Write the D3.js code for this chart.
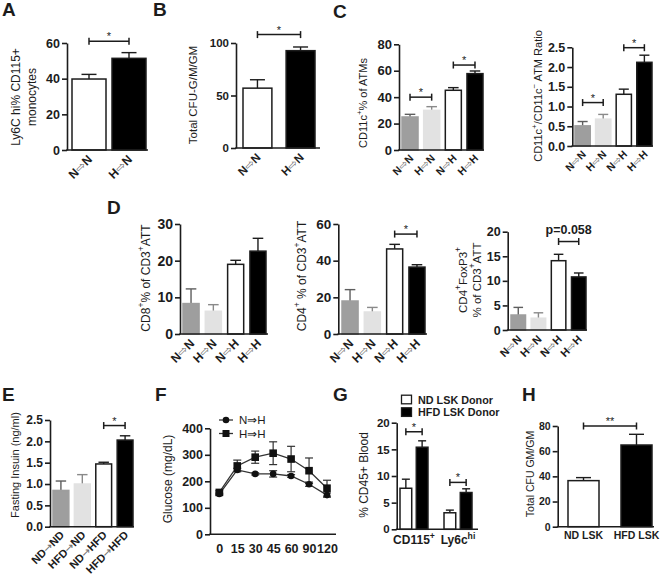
<!DOCTYPE html>
<html><head><meta charset="utf-8">
<script src="https://cdn.jsdelivr.net/npm/d3@7"></script>
<style>body{margin:0;background:#fff}svg{display:block}</style>
</head><body><svg id="c" width="661" height="577"></svg>
<script>
// ---------------- data ----------------
const transferCats2 = ["N⇨N", "H⇨N"];
const transferCats4 = ["N⇨N", "H⇨N", "N⇨H", "H⇨H"];
const aVals = [39.8, 51.4];   const aErr = [2.6, 3.2];
const aSig = [{from: 0, to: 1, at: 61, label: "*"}];
const bVals = [57, 92.7];     const bErr = [8, 3.5];
const bSig = [{from: 0, to: 1, at: 108, label: "*"}];
const cAtmVals = [25, 30, 45.2, 57.8];   const cAtmErr = [2, 2.8, 2, 2];
const cAtmSig = [{from: 0, to: 1, at: 40, label: "*"}, {from: 2, to: 3, at: 64.3, label: "*"}];
const cRatioVals = [0.51, 0.68, 1.31, 2.12]; const cRatioErr = [0.11, 0.12, 0.13, 0.18];
const cRatioSig = [{from: 0, to: 1, at: 1.10, label: "*"}, {from: 2, to: 3, at: 2.49, label: "*"}];
const dCd8Vals = [8.3, 6.2, 19.0, 22.6];  const dCd8Err = [4.0, 1.8, 1.1, 3.5];
const dCd4Vals = [18, 12, 46.4, 36.5];    const dCd4Err = [6.2, 2.5, 2.5, 1.3];
const dCd4Sig = [{from: 2, to: 3, at: 54.5, label: "*"}];
const dTregVals = [3.05, 2.4, 14.1, 10.8]; const dTregErr = [1.55, 1.1, 1.3, 0.8];
const dTregSig = [{from: 2, to: 3, at: 18, label: "p=0.058"}];
const dietCats = ["ND→ND", "HFD→ND", "ND→HFD", "HFD→HFD"];
const eVals = [0.85, 1.0, 1.47, 2.03];   const eErr = [0.22, 0.22, 0.04, 0.1];
const eSig = [{from: 2, to: 3, at: 2.37, label: "*"}];
const fTimes = ["0", "15", "30", "45", "60", "90", "120"];
const fSeries = ["N⇒H", "H⇒H"];
const fNH = [152, 243, 228, 228, 220, 189, 148]; const fNHErr = [4, 6, 4, 12, 5, 8, 8];
const fHH = [158, 258, 291, 306, 284, 240, 174]; const fHHErr = [6, 22, 23, 43, 48, 48, 30];
const gGroups = ["CD115^{+}", "Ly6c^{hi}"];
const gDonors = ["ND LSK Donor", "HFD LSK Donor"];
const gND = [7.7, 3.1];   const gNDErr = [1.7, 0.5];
const gHFD = [15.4, 6.9]; const gHFDErr = [1.2, 0.7];
const gSig = [{group: 0, at: 18.3, label: "*"}, {group: 1, at: 8.8, label: "*"}];
const hCats = ["ND LSK", "HFD LSK"];
const hVals = [36.6, 64.9]; const hErr = [2.4, 8.5];
const hSig = [{from: 0, to: 1, at: 80, label: "**"}];

// ---------------- style ----------------
const FONT = "Arial, 'Liberation Sans', Helvetica, sans-serif";
const INK = "#1c1c1c";
const fill4 = ["#9e9e9e", "#e2e2e2", "#ffffff", "#000000"];
const stroke4 = ["#9e9e9e", "#e2e2e2", INK, INK];
const err4 = ["#5e5e5e", "#8a8a8a", INK, INK];
const fill2 = ["#ffffff", "#000000"];
const stroke2 = [INK, INK];
const err2 = [INK, INK];

const svg = d3.select("#c").attr("font-family", FONT);

function rich(text, str, fs) {
  const parts = str.split(/(\^\{[^}]*\}|~\{[^}]*\})/g).filter(s => s.length);
  let back = 0;
  parts.forEach(p => {
    let t;
    if (p.startsWith("^{")) {
      t = text.append("tspan").text(p.slice(2, -1)).attr("font-size", fs * 0.72).attr("dy", -fs * 0.4);
      back = fs * 0.4;
      return;
    } else if (p.startsWith("~{")) {
      t = text.append("tspan").text(p.slice(2, -1)).attr("fill", "#6e6e6e").attr("font-weight", "normal")
        .attr("font-family", "'DejaVu Sans', sans-serif");
    } else {
      t = text.append("tspan").text(p);
    }
    if (back) { t.attr("dy", back); back = 0; }
  });
}

function yAxis(y, ax, ticks, fmt, fs) {
  const a = svg.append("g").attr("transform", `translate(${ax},0)`)
    .call(d3.axisLeft(y).tickValues(ticks).tickFormat(fmt).tickSize(5).tickSizeOuter(0).tickPadding(2));
  a.attr("font-family", FONT).attr("font-size", fs).attr("font-weight", "bold");
  a.select(".domain").attr("stroke", INK).attr("stroke-width", 1.6);
  a.selectAll(".tick line").attr("stroke", INK).attr("stroke-width", 1.6);
  a.selectAll(".tick text").attr("fill", INK);
  return a;
}

function xLine(x0, x1, yv) {
  svg.append("line").attr("x1", x0 - 0.8).attr("x2", x1).attr("y1", yv).attr("y2", yv)
    .attr("stroke", INK).attr("stroke-width", 1.6);
}

function bracket(xa, xb, yv, label, fs) {
  const g = svg.append("g").attr("stroke", INK).attr("stroke-width", 1.5);
  g.append("line").attr("x1", xa).attr("x2", xb).attr("y1", yv).attr("y2", yv);
  g.append("line").attr("x1", xa).attr("x2", xa).attr("y1", yv - 3.5).attr("y2", yv + 3.5);
  g.append("line").attr("x1", xb).attr("x2", xb).attr("y1", yv - 3.5).attr("y2", yv + 3.5);
  const star = label.startsWith("*");
  svg.append("text").attr("x", (xa + xb) / 2).attr("y", star ? yv - 1 : yv - 8)
    .attr("text-anchor", "middle").attr("font-size", star ? 11 : fs).attr("fill", INK)
    .attr("font-weight", star ? "normal" : "bold").text(label);
}

function yTitle(lines, cy, fs) {
  lines.forEach(l => {
    const t = svg.append("text").attr("transform", `translate(${l.x},${cy}) rotate(-90)`)
      .attr("text-anchor", "middle").attr("dominant-baseline", "central")
      .attr("font-size", fs).attr("fill", INK);
    rich(t, l.s, fs);
  });
}

function letter(s, x, y) {
  svg.append("text").attr("x", x).attr("y", y).attr("font-size", 19).attr("font-weight", "bold")
    .attr("fill", INK).text(s);
}

function errBar(cx, yTop, yEnd, half, color) {
  svg.append("line").attr("x1", cx).attr("x2", cx).attr("y1", yTop).attr("y2", yEnd)
    .attr("stroke", color).attr("stroke-width", 1.4);
  svg.append("line").attr("x1", cx - half).attr("x2", cx + half).attr("y1", yEnd).attr("y2", yEnd)
    .attr("stroke", color).attr("stroke-width", 1.4);
}

function barPanel(o) {
  const y = d3.scaleLinear().domain([0, o.max]).range([o.y0, o.y1]);
  const x = d3.scaleBand().domain(o.cats).range(o.xr).paddingInner(o.pad).paddingOuter(0);
  const bw = x.bandwidth();
  const half = Math.min(7.5, bw * 0.33);
  o.cats.forEach((c, i) => {
    const v = o.vals[i], e = o.errs[i];
    const cx = x(c) + bw / 2;
    errBar(cx, y(v), y(v + e), half, o.err[i]);
    svg.append("rect").attr("x", x(c)).attr("y", y(v)).attr("width", bw).attr("height", o.y0 - y(v))
      .attr("fill", o.fills[i]).attr("stroke", o.strokes[i]).attr("stroke-width", 1.5);
  });
  yAxis(y, o.axisX, o.ticks, o.fmt || d3.format("d"), o.tickFs);
  xLine(o.axisX, o.xEnd, o.y0);
  (o.sig || []).forEach(s => {
    bracket(x(o.cats[s.from]) + bw / 2, x(o.cats[s.to]) + bw / 2, y(s.at), s.label, o.tickFs);
  });
  if (o.rotate) {
    o.cats.forEach(c => {
      const t = svg.append("text")
        .attr("transform", `translate(${x(c) + bw / 2 + o.ldx},${o.y0 + o.ldy}) rotate(-45)`)
        .attr("text-anchor", "end").attr("font-size", o.labFs).attr("font-weight", "bold").attr("fill", INK);
      rich(t, c.replace(/(⇨|⇒|→)/g, "~{$1}"), o.labFs);
    });
  } else {
    o.cats.forEach(c => {
      svg.append("text").attr("x", x(c) + bw / 2).attr("y", o.y0 + o.ldy).attr("text-anchor", "middle")
        .attr("font-size", o.labFs).attr("font-weight", "bold").attr("fill", INK).text(c);
    });
  }
  yTitle(o.title, o.titleCy, o.titleFs);
}

// ---------------- A ----------------
letter("A", 2, 16);
barPanel({cats: transferCats2, vals: aVals, errs: aErr, sig: aSig, max: 60, ticks: [0, 20, 40, 60],
  axisX: 67, y0: 150, y1: 43, xr: [72, 146], pad: 0.15, xEnd: 148, tickFs: 12.5,
  fills: fill2, strokes: stroke2, err: err2, rotate: true, labFs: 12, ldx: 4, ldy: 10,
  title: [{x: 16, s: "Ly6C hi% CD115+"}, {x: 32, s: "monocytes"}], titleCy: 97, titleFs: 12});

// ---------------- B ----------------
letter("B", 153, 16);
barPanel({cats: transferCats2, vals: bVals, errs: bErr, sig: bSig, max: 100, ticks: [0, 50, 100],
  axisX: 236, y0: 148, y1: 43, xr: [243, 315], pad: 0.33, xEnd: 320, tickFs: 11.5,
  fills: fill2, strokes: stroke2, err: err2, rotate: true, labFs: 11.5, ldx: 4, ldy: 10,
  title: [{x: 193, s: "Total CFU-G/M/GM"}], titleCy: 95, titleFs: 11.5});

// ---------------- C ----------------
letter("C", 333, 18);
barPanel({cats: transferCats4, vals: cAtmVals, errs: cAtmErr, sig: cAtmSig, max: 80, ticks: [0, 20, 40, 60, 80],
  axisX: 399, y0: 150, y1: 44.3, xr: [402, 483], pad: 0.26, xEnd: 484, tickFs: 13,
  fills: fill4, strokes: stroke4, err: err4, rotate: true, labFs: 10.5, ldx: 4, ldy: 9,
  title: [{x: 363, s: "CD11c^{+}% of ATMs"}], titleCy: 103, titleFs: 11});
barPanel({cats: transferCats4, vals: cRatioVals, errs: cRatioErr, sig: cRatioSig, max: 2.5,
  ticks: [0, 0.5, 1, 1.5, 2, 2.5], fmt: d3.format(".1f"),
  axisX: 572.3, y0: 146, y1: 47.3, xr: [575, 652], pad: 0.26, xEnd: 653, tickFs: 12.5,
  fills: fill4, strokes: stroke4, err: err4, rotate: true, labFs: 10.5, ldx: 4, ldy: 9,
  title: [{x: 538, s: "CD11c^{+}/CD11c^{−} ATM Ratio"}], titleCy: 96, titleFs: 11});

// ---------------- D ----------------
letter("D", 107, 214);
barPanel({cats: transferCats4, vals: dCd8Vals, errs: dCd8Err, max: 30, ticks: [0, 10, 20, 30],
  axisX: 180, y0: 334, y1: 224, xr: [183, 266], pad: 0.28, xEnd: 268, tickFs: 14,
  fills: fill4, strokes: stroke4, err: err4, rotate: true, labFs: 12, ldx: 4, ldy: 10,
  title: [{x: 146, s: "CD8^{+}% of CD3^{+}ATT"}], titleCy: 278, titleFs: 12});
barPanel({cats: transferCats4, vals: dCd4Vals, errs: dCd4Err, sig: dCd4Sig, max: 60, ticks: [0, 20, 40, 60],
  axisX: 338.3, y0: 334, y1: 224, xr: [342, 425], pad: 0.28, xEnd: 427, tickFs: 13.5,
  fills: fill4, strokes: stroke4, err: err4, rotate: true, labFs: 12, ldx: 4, ldy: 10,
  title: [{x: 302, s: "CD4^{+} % of CD3^{+}ATT"}], titleCy: 276, titleFs: 12});
barPanel({cats: transferCats4, vals: dTregVals, errs: dTregErr, sig: dTregSig, max: 20, ticks: [0, 5, 10, 15, 20],
  axisX: 507.7, y0: 330, y1: 231.7, xr: [511, 586], pad: 0.28, xEnd: 587, tickFs: 12.5,
  fills: fill4, strokes: stroke4, err: err4, rotate: true, labFs: 11, ldx: 4, ldy: 10,
  title: [{x: 463, s: "CD4^{+}FoxP3^{+}"}, {x: 477, s: "% of CD3^{+}ATT"}], titleCy: 280, titleFs: 11.5});

// ---------------- E ----------------
letter("E", 2, 401);
barPanel({cats: dietCats, vals: eVals, errs: eErr, sig: eSig, max: 2.5,
  ticks: [0, 0.5, 1, 1.5, 2, 2.5], fmt: d3.format(".1f"),
  axisX: 50, y0: 526.7, y1: 420, xr: [53, 133], pad: 0.26, xEnd: 134, tickFs: 12,
  fills: fill4, strokes: stroke4, err: err4, rotate: true, labFs: 11, ldx: 4, ldy: 9,
  title: [{x: 15, s: "Fasting Insuin (ng/ml)"}], titleCy: 465, titleFs: 11});

// ---------------- F ----------------
letter("F", 155, 401);
(function () {
  const x = d3.scalePoint().domain(fTimes).range([219.3, 327]);
  const y = d3.scaleLinear().domain([0, 400]).range([534.3, 428.3]);
  yAxis(y, 210, [0, 100, 200, 300, 400], d3.format("d"), 12.5);
  xLine(210, 336, 534.3);
  const xa = svg.append("g").attr("transform", "translate(0,534.3)")
    .call(d3.axisBottom(x).tickSize(0).tickPadding(10));
  xa.attr("font-family", FONT).attr("font-size", 12.5).attr("font-weight", "bold");
  xa.select(".domain").remove();
  xa.selectAll(".tick text").attr("fill", INK);
  const series = [{name: fSeries[0], v: fNH, e: fNHErr, shape: "circle"},
                  {name: fSeries[1], v: fHH, e: fHHErr, shape: "square"}];
  const line = d3.line().x((d, i) => x(fTimes[i])).y(d => y(d));
  series.forEach(s => {
    svg.append("path").attr("d", line(s.v)).attr("fill", "none").attr("stroke", "#333").attr("stroke-width", 1.3);
    s.v.forEach((v, i) => {
      const cx = x(fTimes[i]);
      svg.append("line").attr("x1", cx).attr("x2", cx).attr("y1", y(v - s.e[i])).attr("y2", y(v + s.e[i]))
        .attr("stroke", "#333").attr("stroke-width", 1.2);
      [v - s.e[i], v + s.e[i]].forEach(w => svg.append("line").attr("x1", cx - 4).attr("x2", cx + 4)
        .attr("y1", y(w)).attr("y2", y(w)).attr("stroke", "#333").attr("stroke-width", 1.2));
    });
  });
  series.forEach(s => {
    s.v.forEach((v, i) => {
      const cx = x(fTimes[i]);
      if (s.shape === "circle") svg.append("circle").attr("cx", cx).attr("cy", y(v)).attr("r", 3.3).attr("fill", "#111");
      else svg.append("rect").attr("x", cx - 3.8).attr("y", y(v) - 3.8).attr("width", 7.6).attr("height", 7.6).attr("fill", "#111");
    });
  });
  // legend
  series.forEach((s, k) => {
    const ly = 420 + k * 13.5;
    svg.append("line").attr("x1", 219).attr("x2", 233).attr("y1", ly).attr("y2", ly).attr("stroke", "#333").attr("stroke-width", 1.3);
    if (s.shape === "circle") svg.append("circle").attr("cx", 226).attr("cy", ly).attr("r", 3.3).attr("fill", "#111");
    else svg.append("rect").attr("x", 222.5).attr("y", ly - 3.5).attr("width", 7).attr("height", 7).attr("fill", "#111");
    svg.append("text").attr("x", 239).attr("y", ly).attr("dominant-baseline", "central")
      .attr("font-size", 11.5).attr("fill", INK).text(s.name);
  });
  yTitle([{x: 168, s: "Glucose (mg/dL)"}], 479, 12);
})();

// ---------------- G ----------------
letter("G", 333, 401);
(function () {
  const y = d3.scaleLinear().domain([0, 20]).range([529.3, 422.7]);
  const x0 = d3.scaleBand().domain(gGroups).range([400, 472]).paddingInner(0.364).paddingOuter(0);
  const x1 = d3.scaleBand().domain(gDonors).range([0, x0.bandwidth()]).paddingInner(0.28).paddingOuter(0);
  const bw = x1.bandwidth();
  const sets = [{vals: gND, errs: gNDErr, fill: fill2[0]}, {vals: gHFD, errs: gHFDErr, fill: fill2[1]}];
  gGroups.forEach((gname, gi) => {
    sets.forEach((s, di) => {
      const bx = x0(gname) + x1(gDonors[di]);
      const v = s.vals[gi], e = s.errs[gi];
      errBar(bx + bw / 2, y(v), y(v + e), 4, INK);
      svg.append("rect").attr("x", bx).attr("y", y(v)).attr("width", bw).attr("height", 529.3 - y(v))
        .attr("fill", s.fill).attr("stroke", INK).attr("stroke-width", 1.5);
    });
    const t = svg.append("text").attr("x", x0(gname) + x0.bandwidth() / 2).attr("y", 544)
      .attr("text-anchor", "middle").attr("font-size", 12).attr("font-weight", "bold").attr("fill", INK);
    rich(t, gname, 12);
  });
  gSig.forEach(s => {
    const g = gGroups[s.group];
    bracket(x0(g) + x1(gDonors[0]) + bw / 2, x0(g) + x1(gDonors[1]) + bw / 2, y(s.at), s.label, 11);
  });
  yAxis(y, 396.7, [0, 5, 10, 15, 20], d3.format("d"), 11.5);
  xLine(396.7, 478, 529.3);
  yTitle([{x: 364, s: "% CD45+ Blood"}], 475, 12);
  // legend
  gDonors.forEach((d, k) => {
    const ly = 399.5 + k * 12.6;
    svg.append("rect").attr("x", 401.5).attr("y", ly - 4.3).attr("width", 10).attr("height", 8.6)
      .attr("fill", fill2[k]).attr("stroke", INK).attr("stroke-width", 1.3);
    svg.append("text").attr("x", 418).attr("y", ly).attr("dominant-baseline", "central")
      .attr("font-size", 10.8).attr("font-weight", "bold").attr("fill", INK).text(d);
  });
})();

// ---------------- H ----------------
letter("H", 522, 401);
barPanel({cats: hCats, vals: hVals, errs: hErr, sig: hSig, max: 80, ticks: [0, 20, 40, 60, 80],
  axisX: 557.7, y0: 526.7, y1: 426, xr: [568, 652], pad: 0.415, xEnd: 654, tickFs: 10.5,
  fills: fill2, strokes: stroke2, err: err2, rotate: false, labFs: 10.5, ldy: 12,
  title: [{x: 530, s: "Total CFU GM/GM"}], titleCy: 474, titleFs: 10.5});
</script></body></html>
